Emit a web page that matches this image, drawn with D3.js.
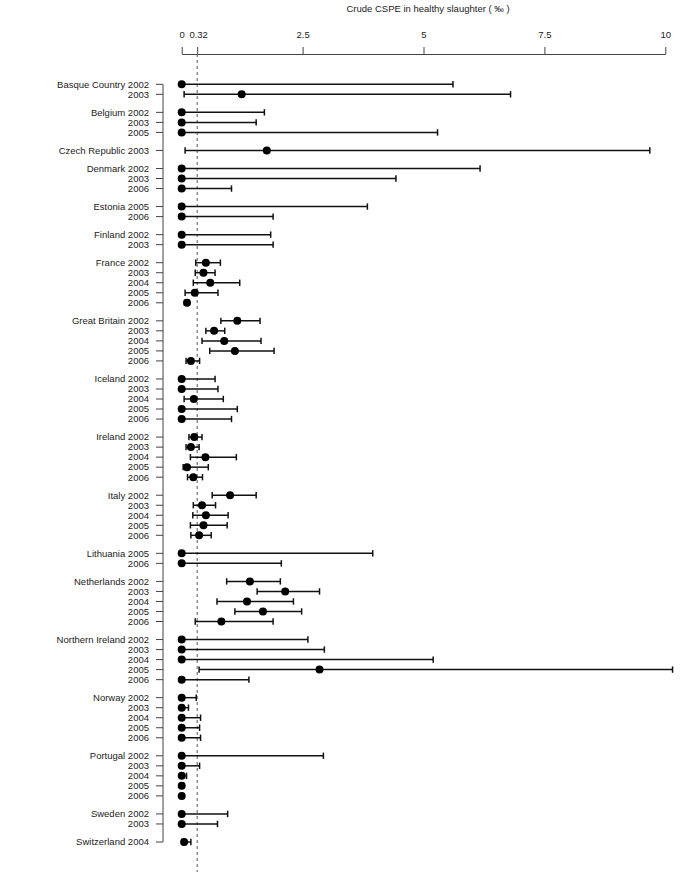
<!DOCTYPE html>
<html>
<head>
<meta charset="utf-8">
<script src="https://cdn.jsdelivr.net/npm/d3@7"></script>
<style>
  html, body { margin: 0; padding: 0; background: #fff; }
  svg { display: block; }
  text { font-family: "Liberation Sans", Arial, Helvetica, sans-serif; fill: #222; }
</style>
</head>
<body>
<svg id="chart" width="685" height="872"></svg>
<script>
// ---- Data ----
const countries = ["Basque Country", "Belgium", "Czech Republic", "Denmark", "Estonia", "Finland",
  "France", "Great Britain", "Iceland", "Ireland", "Italy", "Lithuania", "Netherlands",
  "Northern Ireland", "Norway", "Portugal", "Sweden", "Switzerland"];
const years = [
  [2002, 2003], [2002, 2003, 2005], [2003], [2002, 2003, 2006], [2005, 2006], [2002, 2003],
  [2002, 2003, 2004, 2005, 2006], [2002, 2003, 2004, 2005, 2006], [2002, 2003, 2004, 2005, 2006],
  [2002, 2003, 2004, 2005, 2006], [2002, 2003, 2004, 2005, 2006], [2005, 2006],
  [2002, 2003, 2004, 2005, 2006], [2002, 2003, 2004, 2005, 2006], [2002, 2003, 2004, 2005, 2006],
  [2002, 2003, 2004, 2005, 2006], [2002, 2003], [2004]
];
// estimate, lower and upper confidence bounds (per mille), in row order
const estimate = [
  0, 1.24,
  0, 0, 0,
  1.76,
  0, 0, 0,
  0, 0,
  0, 0,
  0.50, 0.45, 0.59, 0.27, 0.11,
  1.15, 0.67, 0.88, 1.10, 0.19,
  0, 0, 0.25, 0, 0,
  0.26, 0.19, 0.49, 0.11, 0.24,
  1.00, 0.42, 0.50, 0.45, 0.36,
  0, 0,
  1.41, 2.14, 1.35, 1.68, 0.82,
  0, 0, 0, 2.85, 0,
  0, 0, 0, 0, 0,
  0, 0, 0, 0, 0,
  0, 0,
  0.05
];
const lower = [
  0, 0.05,
  0, 0, 0,
  0.07,
  0, 0, 0,
  0, 0,
  0, 0,
  0.29, 0.28, 0.24, 0.07, 0.06,
  0.81, 0.50, 0.42, 0.58, 0.09,
  0, 0, 0.05, 0, 0,
  0.15, 0.09, 0.18, 0.03, 0.12,
  0.63, 0.24, 0.23, 0.18, 0.19,
  0, 0,
  0.93, 1.56, 0.73, 1.10, 0.28,
  0, 0, 0, 0.36, 0,
  0, 0, 0, 0, 0,
  0, 0, 0, 0, 0,
  0, 0,
  0.01
];
const upper = [
  5.61, 6.80,
  1.71, 1.54, 5.29,
  9.68,
  6.17, 4.43, 1.03,
  3.84, 1.89,
  1.84, 1.89,
  0.80, 0.69, 1.20, 0.75, 0.15,
  1.62, 0.89, 1.64, 1.91, 0.37,
  0.69, 0.75, 0.86, 1.15, 1.03,
  0.42, 0.36, 1.13, 0.55, 0.43,
  1.54, 0.70, 0.96, 0.94, 0.61,
  3.95, 2.06,
  2.04, 2.85, 2.31, 2.48, 1.89,
  2.61, 2.95, 5.20, 10.15, 1.39,
  0.30, 0.14, 0.39, 0.37, 0.39,
  2.93, 0.37, 0.10, 0.04, 0.04,
  0.95, 0.74,
  0.19
];
const tickValues = [0, 0.32, 2.5, 5, 7.5, 10];
const refValue = 0.32;
const axisTitle = "Crude CSPE in healthy slaughter ( \u2030 )";

// ---- Build rows ----
const groupGap = 0.8;
const rows = [];
let idx = 0;
countries.forEach((c, g) => {
  years[g].forEach((yr, j) => {
    rows.push({
      label: j === 0 ? c + " " + yr : String(yr),
      pos: idx + g * groupGap,
      est: estimate[idx], lo: lower[idx], hi: upper[idx]
    });
    idx++;
  });
});

const svg = d3.select("#chart");
const x = d3.scaleLinear().domain([0, 10]).range([181.7, 665.3]);
const maxPos = d3.max(rows, d => d.pos);
const y = d3.scaleLinear().domain([0, maxPos]).range([84.3, 842]);

const fontSize = 9.5;

// Title
svg.append("text")
  .attr("x", 428).attr("y", 12)
  .attr("text-anchor", "middle")
  .style("font-size", fontSize + "px")
  .text(axisTitle);

// Top axis
const axisY = 54;
const gx = svg.append("g")
  .attr("transform", `translate(0,${axisY})`)
  .call(d3.axisTop(x).tickValues(tickValues).tickFormat(d => String(d))
    .tickSize(7).tickSizeOuter(0).tickPadding(9));
gx.selectAll("path.domain").attr("stroke", "#444").attr("stroke-width", 1);
gx.selectAll(".tick line").attr("stroke", "#444").attr("stroke-width", 1);
gx.selectAll(".tick text")
  .style("font-size", fontSize + "px")
  .style("font-family", '"Liberation Sans", Arial, sans-serif')
  .attr("fill", "#222");
gx.selectAll(".tick text").filter(d => d === 0.32).attr("dx", "0.1em");

// Reference dashed line
svg.append("line")
  .attr("x1", x(refValue)).attr("x2", x(refValue))
  .attr("y1", axisY).attr("y2", 872)
  .attr("stroke", "#555").attr("stroke-width", 1)
  .attr("stroke-dasharray", "3,3");

// Left axis (bracket with ticks)
const axisX = 163;
const gl = svg.append("g");
gl.append("line")
  .attr("x1", axisX).attr("x2", axisX)
  .attr("y1", y(0)).attr("y2", y(maxPos))
  .attr("stroke", "#444").attr("stroke-width", 1);
gl.selectAll("line.tk").data(rows).enter().append("line")
  .attr("class", "tk")
  .attr("x1", axisX - 7).attr("x2", axisX)
  .attr("y1", d => y(d.pos)).attr("y2", d => y(d.pos))
  .attr("stroke", "#444").attr("stroke-width", 1);
gl.selectAll("text").data(rows).enter().append("text")
  .attr("x", axisX - 14)
  .attr("y", d => y(d.pos))
  .attr("dy", "0.35em")
  .attr("text-anchor", "end")
  .style("font-size", fontSize + "px")
  .text(d => d.label);

// Error bars
const capH = 3.2;
const gb = svg.append("g");
gb.selectAll("line.bar").data(rows).enter().append("line")
  .attr("x1", d => x(d.lo)).attr("x2", d => x(d.hi))
  .attr("y1", d => y(d.pos)).attr("y2", d => y(d.pos))
  .attr("stroke", "#111").attr("stroke-width", 1.5);
gb.selectAll("line.capL").data(rows).enter().append("line")
  .attr("x1", d => x(d.lo)).attr("x2", d => x(d.lo))
  .attr("y1", d => y(d.pos) - capH).attr("y2", d => y(d.pos) + capH)
  .attr("stroke", "#111").attr("stroke-width", 1.5);
gb.selectAll("line.capR").data(rows).enter().append("line")
  .attr("x1", d => x(d.hi)).attr("x2", d => x(d.hi))
  .attr("y1", d => y(d.pos) - capH).attr("y2", d => y(d.pos) + capH)
  .attr("stroke", "#111").attr("stroke-width", 1.5);

// Points
svg.append("g").selectAll("circle").data(rows).enter().append("circle")
  .attr("cx", d => x(d.est)).attr("cy", d => y(d.pos))
  .attr("r", 4).attr("fill", "#000");
</script>
</body>
</html>
